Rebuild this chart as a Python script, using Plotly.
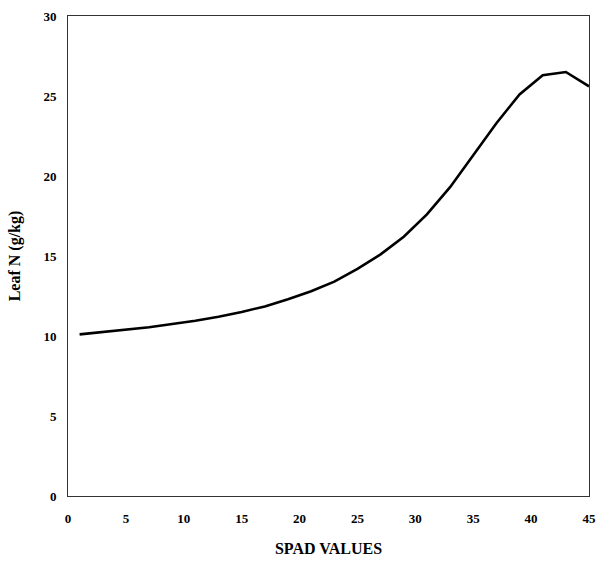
import plotly.graph_objects as go

spad = [1, 3, 5, 7, 9, 11, 13, 15, 17, 19, 21, 23, 25, 27, 29, 31, 33, 35, 37, 39, 41, 43, 45]
leaf_n = [10.1, 10.25, 10.4, 10.55, 10.75, 10.95, 11.2, 11.5, 11.85, 12.3, 12.8, 13.4,
          14.2, 15.1, 16.2, 17.6, 19.3, 21.3, 23.3, 25.1, 26.3, 26.5, 25.6]
x_ticks = [0, 5, 10, 15, 20, 25, 30, 35, 40, 45]
y_ticks = [0, 5, 10, 15, 20, 25, 30]

fig = go.Figure()
fig.add_trace(go.Scatter(x=spad, y=leaf_n, mode="lines",
                         line=dict(color="black", width=2.6), showlegend=False))

font = dict(family="Liberation Serif, Times New Roman, serif", color="black")
fig.update_layout(
    width=600, height=562,
    margin=dict(l=68, r=11, t=16, b=66),
    paper_bgcolor="white", plot_bgcolor="white",
    font=dict(**font, size=13),
    xaxis=dict(range=[0, 45], tickvals=x_ticks, ticktext=[f"<b>{v}</b>" for v in x_ticks],
               automargin=False,
               showgrid=False, zeroline=False, showline=True, linecolor="#333",
               linewidth=1, mirror=True, ticks="", ticklen=0, ticklabelstandoff=10,
               title=dict(text="<b>SPAD VALUES</b>", font=dict(size=16), standoff=18)),
    yaxis=dict(range=[0, 30], tickvals=y_ticks, ticktext=[f"<b>{v}</b>" for v in y_ticks],
               automargin=False,
               showgrid=False, zeroline=False, showline=True, linecolor="#333",
               linewidth=1, mirror=True, ticks="", ticklen=0, ticklabelstandoff=8,
               title=dict(text="<b>Leaf N (g/kg)</b>", font=dict(size=16), standoff=18)),
)
fig.write_html("out.html")
